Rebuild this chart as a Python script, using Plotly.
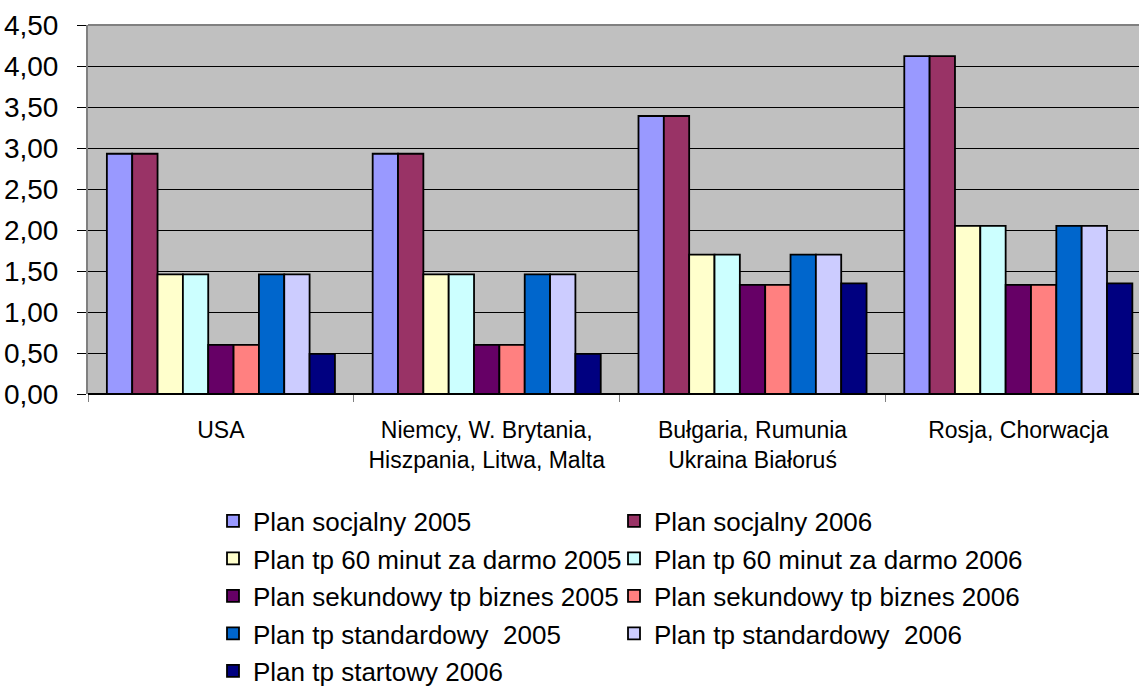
import plotly.graph_objects as go

categories = [
    "USA",
    "Niemcy, W. Brytania,<br>Hiszpania, Litwa, Malta",
    "Bułgaria, Rumunia<br>Ukraina Białoruś",
    "Rosja, Chorwacja",
]

series_names = [
    "Plan socjalny 2005",
    "Plan socjalny 2006",
    "Plan tp 60 minut za darmo 2005",
    "Plan tp 60 minut za darmo 2006",
    "Plan sekundowy tp biznes 2005",
    "Plan sekundowy tp biznes 2006",
    "Plan tp standardowy  2005",
    "Plan tp standardowy  2006",
    "Plan tp startowy 2006",
]

socjalny_2005 = [2.93, 2.93, 3.39, 4.12]
socjalny_2006 = [2.93, 2.93, 3.39, 4.12]
min60_2005 = [1.46, 1.46, 1.70, 2.05]
min60_2006 = [1.46, 1.46, 1.70, 2.05]
sekundowy_2005 = [0.60, 0.60, 1.33, 1.33]
sekundowy_2006 = [0.60, 0.60, 1.33, 1.33]
standardowy_2005 = [1.46, 1.46, 1.70, 2.05]
standardowy_2006 = [1.46, 1.46, 1.70, 2.05]
startowy_2006 = [0.49, 0.49, 1.35, 1.35]

series_values = [
    socjalny_2005, socjalny_2006, min60_2005, min60_2006,
    sekundowy_2005, sekundowy_2006, standardowy_2005, standardowy_2006,
    startowy_2006,
]

colors = ["#9999FF", "#993366", "#FFFFCC", "#CCFFFF", "#660066",
          "#FF8080", "#0066CC", "#CCCCFF", "#000080"]

y_ticks = [0, 0.5, 1.0, 1.5, 2.0, 2.5, 3.0, 3.5, 4.0, 4.5]

FONT = "Liberation Sans, Arial, sans-serif"
W, H = 1139, 688

# legend placement (two columns, five rows), in figure pixels
col_x = [213, 614]
row_y = [521, 558.5, 596, 633.5, 671]

fig = go.Figure()
legend_layouts = {}
for i, (name, vals, col) in enumerate(zip(series_names, series_values, colors)):
    lid = "legend" if i == 0 else f"legend{i + 1}"
    fig.add_trace(go.Bar(
        x=categories, y=vals, name=name, legend=lid,
        marker=dict(color=col, line=dict(color="black", width=1.8)),
    ))
    r, c = divmod(i, 2)
    legend_layouts[lid] = dict(
        xref="container", yref="container",
        x=col_x[c] / W, xanchor="left",
        y=(H - row_y[r]) / H, yanchor="middle",
        font=dict(family=FONT, size=26, color="black"),
        itemwidth=30, bgcolor="rgba(0,0,0,0)",
    )

fig.update_layout(
    width=W, height=H, autosize=False,
    margin=dict(l=88, r=0, t=25, b=294, pad=0, autoexpand=False),
    paper_bgcolor="white",
    plot_bgcolor="#C0C0C0",
    barmode="group", bargap=0.142, bargroupgap=0,
    separators=",.",
    font=dict(family=FONT, color="black"),
    showlegend=True,
    shapes=[dict(type="line", xref="paper", yref="paper", x0=0, x1=1, y0=1, y1=1,
                 line=dict(color="#808080", width=2))],
    **legend_layouts,
)

fig.update_xaxes(
    type="category", range=[-0.5, 3.454], tickson="boundaries",
    ticks="outside", ticklen=7, tickcolor="#808080", tickwidth=1,
    showgrid=False, showline=False, zeroline=False, automargin=False,
    ticklabelstandoff=20,
    tickfont=dict(family=FONT, size=23, color="black"),
)
fig.update_yaxes(
    range=[0, 4.5], tickvals=y_ticks, tickformat=".2f",
    showgrid=True, gridcolor="black", gridwidth=1,
    zeroline=True, zerolinecolor="black", zerolinewidth=1.5,
    showline=True, linecolor="#808080", linewidth=2,
    ticks="outside", ticklen=9, tickcolor="black", tickwidth=1,
    ticklabelstandoff=13, automargin=False,
    tickfont=dict(family=FONT, size=28, color="black"),
)

# remove the browser's default 8px body margin so the figure fills the window
fig.write_html("out.html", config={"displayModeBar": False},
               post_script="document.body.style.margin='0';")
